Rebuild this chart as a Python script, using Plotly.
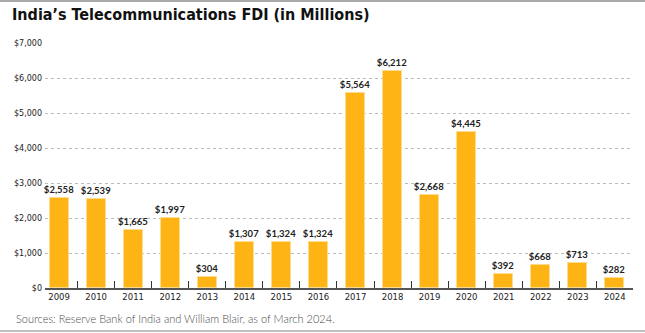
import plotly.graph_objects as go

# India telecom FDI inflows, USD millions
years = [2009, 2010, 2011, 2012, 2013, 2014, 2015, 2016,
         2017, 2018, 2019, 2020, 2021, 2022, 2023, 2024]
fdi_musd = [2558, 2539, 1665, 1997, 304, 1307, 1324, 1324,
            5564, 6212, 2668, 4445, 392, 668, 713, 282]

y_ticks = [0, 1000, 2000, 3000, 4000, 5000, 6000, 7000]
y_tick_labels = ["$0", "$1,000", "$2,000", "$3,000", "$4,000", "$5,000", "$6,000", "$7,000"]

title_text = "India’s Telecommunications FDI (in Millions)"
source_text = "Sources: Reserve Bank of India and William Blair, as of March 2024."

W, H = 645, 333
ML, MR, MT, MB = 45, 12, 43, 45
PW, PH = W - ML - MR, H - MT - MB

BAR = "#FDB414"

fig = go.Figure()
fig.add_trace(go.Bar(
    x=years,
    y=fdi_musd,
    width=0.51,
    marker=dict(color=BAR, line=dict(color="#FDDC90", width=1)),
    text=fdi_musd,
    texttemplate="$%{y:,}",
    textposition="outside",
    constraintext="none",
    cliponaxis=False,
    textfont=dict(family="Lato", size=9.5, color="#222222", weight="bold"),
    hoverinfo="skip",
))

fig.update_layout(
    width=W, height=H,
    margin=dict(l=ML, r=MR, t=MT, b=MB),
    paper_bgcolor="white",
    plot_bgcolor="white",
    showlegend=False,
    bargap=0,
    title=dict(
        text=title_text,
        x=12 / W, xanchor="left", xref="container",
        y=1 - 9 / H, yanchor="top", yref="container",
        font=dict(family="DejaVu Sans Condensed, Roboto, sans-serif",
                  size=16, color="#111111", weight="bold"),
    ),
    xaxis=dict(
        range=[2008.62, 2024.49],
        tickmode="array",
        tickvals=years,
        ticktext=[str(v) for v in years],
        ticks="",
        showgrid=False,
        zeroline=False,
        showline=True,
        linecolor="#555555",
        linewidth=1.5,
        tickfont=dict(family="DejaVu Sans", size=8.5, color="#222222"),
        minor=dict(tick0=2009.5, dtick=1, ticks="inside", ticklen=7,
                   tickcolor="#333333", tickwidth=1.2, showgrid=False),
        fixedrange=True,
    ),
    yaxis=dict(
        range=[0, 7000],
        tickmode="array",
        tickvals=y_ticks,
        ticktext=y_tick_labels,
        ticks="",
        showgrid=True,
        gridcolor="#BBBBBB",
        gridwidth=1,
        griddash="dot",
        zeroline=False,
        showline=False,
        tickfont=dict(family="DejaVu Sans", size=8, color="#222222"),
        ticklabelstandoff=2,
        fixedrange=True,
    ),
    shapes=[
        dict(type="line", xref="paper", yref="paper",
             x0=-ML / PW, x1=1 + MR / PW,
             y0=1 + (MT - 1) / PH, y1=1 + (MT - 1) / PH,
             line=dict(color="#AAAAAA", width=2)),
        dict(type="line", xref="paper", yref="paper",
             x0=-ML / PW, x1=1 + MR / PW,
             y0=-(H - 2 - MT - PH) / PH, y1=-(H - 2 - MT - PH) / PH,
             line=dict(color="#AAAAAA", width=1.5)),
    ],
    annotations=[
        dict(text=source_text, xref="paper", yref="paper",
             x=-(ML - 14) / PW, y=-(318 - MT - PH) / PH,
             xanchor="left", yanchor="middle", showarrow=False,
             font=dict(family="Lato", size=11, color="#4A4A4A", weight=300)),
    ],
)

fig.write_html("out.html")
